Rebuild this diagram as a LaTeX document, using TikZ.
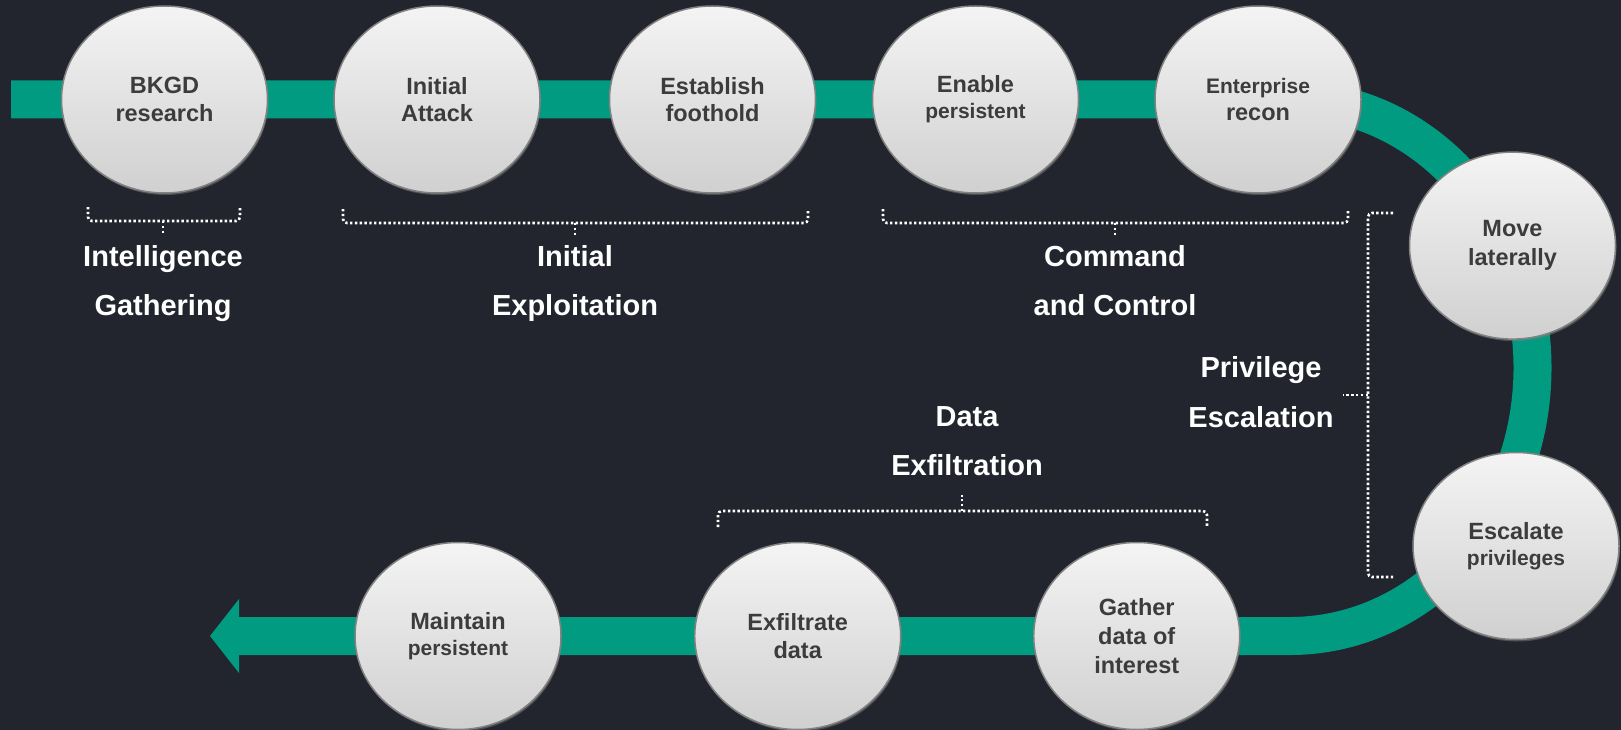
\documentclass[tikz,border=0pt]{standalone}
\usepackage{fontspec}
\setmainfont{Liberation Sans}
\usetikzlibrary{shapes.geometric,shadows,backgrounds}

\definecolor{bgdark}{RGB}{34,37,46}
\definecolor{bandteal}{RGB}{0,155,128}
\definecolor{balltop}{RGB}{244,244,244}
\definecolor{ballbot}{RGB}{208,208,208}
\definecolor{ballrim}{RGB}{130,130,130}
\definecolor{balltext}{RGB}{60,60,60}

\newcommand{\smallline}[1]{{\fontsize{21}{26}\selectfont #1}}

\begin{document}
\begin{tikzpicture}[x=1pt,y=-1pt,
  stage/.style={ellipse, minimum width=206pt, minimum height=187pt, inner sep=0pt,
    top color=balltop, bottom color=ballbot, draw=ballrim, line width=1.5pt,
    text=balltext, align=center,
    font=\bfseries\fontsize{23.5}{27.7}\selectfont,
    drop shadow={opacity=0.45, shadow xshift=1pt, shadow yshift=-2pt}},
  tight/.style={font=\bfseries\fontsize{23.5}{26}\selectfont},
  loose/.style={font=\bfseries\fontsize{23.5}{29}\selectfont},
  band/.style={draw=bandteal, line width=38pt},
  brk/.style={draw=white, line width=2.6pt, dash pattern=on 2.4pt off 2.4pt, rounded corners=4pt},
  phase/.style={text=white, font=\bfseries\fontsize{29}{35}\selectfont, anchor=base, inner sep=0pt}]

\useasboundingbox (0,0) rectangle (1621,730);

% stages along the top row
\node[stage] (bkgd)     at (164.5,99.5) {BKGD\\research};
\node[stage] (attack)   at (437,99.5)   {Initial\\Attack};
\node[stage] (foothold) at (712.5,99.5) {Establish\\foothold};
\node[stage,tight] (enable) at (975.5,99.5) {Enable\\\smallline{persistent}};
\node[stage] (recon)    at (1258,99.5)  {\smallline{Enterprise}\\recon};

% stages on the right-hand bend
\node[stage,loose] (lateral)  at (1512.5,245.6) {Move\\laterally};
\node[stage,tight] (escalate) at (1516,546)     {Escalate\\\smallline{privileges}};

% stages along the bottom row
\node[stage,loose] (gather)   at (1136.7,636) {Gather\\data of\\interest};
\node[stage]       (exfil)    at (797.7,636)  {Exfiltrate\\data};
\node[stage,tight] (maintain) at (458,636)    {Maintain\\\smallline{persistent}};

% path coordinates
\coordinate (bandstart) at (11,99.5);
\coordinate (bendtop)   at (1290,99.5);
\coordinate (arrowbase) at (239,636);
\coordinate (tip)       at (210,636);

\begin{pgfonlayer}{background}
  \fill[bgdark] (0,0) rectangle (1621,730);
  \draw[band] (bandstart) -- (bkgd.center) -- (attack.center) -- (foothold.center)
    -- (enable.center) -- (recon.center) -- (bendtop)
    arc[start angle=-90, end angle=90, x radius=242.5, y radius=268.25]
    -- (gather.center) -- (exfil.center) -- (maintain.center) -- (arrowbase);
  \fill[bandteal] ([yshift=37pt]arrowbase) -- (tip) -- ([yshift=-37pt]arrowbase) -- cycle;
\end{pgfonlayer}

% phase brackets
\draw[brk] (88,207) -- (88,221) -- (240,221) -- (240,207);
\draw[brk] (163,221) -- (163,235);
\draw[brk] (343,209) -- (343,223) -- (808,223) -- (808,209);
\draw[brk] (575,223) -- (575,237);
\draw[brk] (883,209) -- (883,223) -- (1348,223) -- (1348,209);
\draw[brk] (1115,223) -- (1115,237);
\draw[brk] (1393,213) -- (1368,213) -- (1368,577) -- (1393,577);
\draw[brk] (1368,395) -- (1343,395);
\draw[brk] (718,527) -- (718,511) -- (1207,511) -- (1207,527);
\draw[brk] (962,511) -- (962,495);

% phase labels
\node[phase] (intelA) at (163,266.7) {Intelligence};
\node[phase] (intelB) at (163,315)   {Gathering};
\node[phase] (explA)  at (575,266.7) {Initial};
\node[phase] (explB)  at (575,315)   {Exploitation};
\node[phase] (ccA)    at (1115,266.7) {Command};
\node[phase] (ccB)    at (1115,315)   {and Control};
\node[phase] (privA)  at (1261,377.6) {Privilege};
\node[phase] (privB)  at (1261,427)   {Escalation};
\node[phase] (dataA)  at (967,426)    {Data};
\node[phase] (dataB)  at (967,475)    {Exfiltration};
\end{tikzpicture}
\end{document}
